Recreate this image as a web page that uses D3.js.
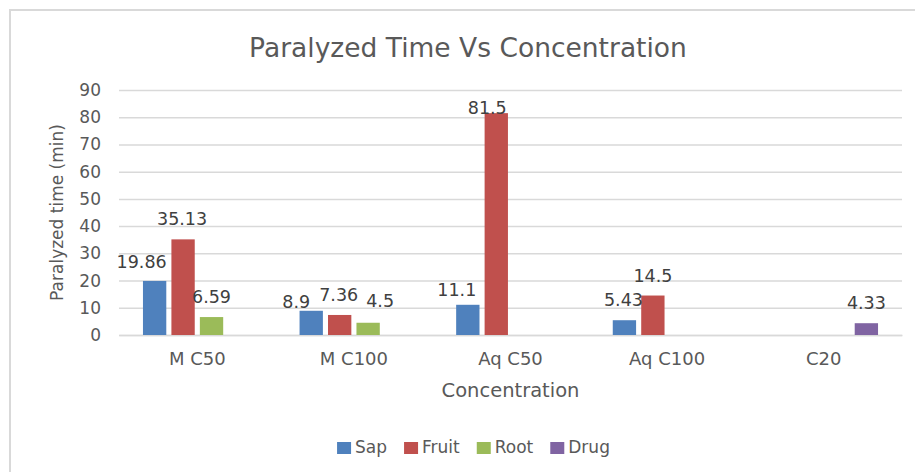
<!DOCTYPE html>
<html>
<head>
<meta charset="utf-8">
<script src="https://cdn.jsdelivr.net/npm/d3@7"></script>
<style>
  body { margin: 0; background: #fff; }
  text { font-family: "DejaVu Sans", sans-serif; }
</style>
</head>
<body>
<script>

// chart data
var categories = ["M C50", "M C100", "Aq C50", "Aq C100", "C20"];
var seriesNames = ["Sap", "Fruit", "Root", "Drug"];
var sap   = [19.86, 8.9, 11.1, 5.43, null];
var fruit = [35.13, 7.36, 81.5, 14.5, null];
var root  = [6.59, 4.5, null, null, null];
var drug  = [null, null, null, null, 4.33];
var yTicks = [0, 10, 20, 30, 40, 50, 60, 70, 80, 90];

var colors = { Sap: "#4f81bd", Fruit: "#c0504d", Root: "#9bbb59", Drug: "#8064a2" };

// label nudges (dx, dy) where Excel shifted them to avoid overlap
var labelNudge = {
    "M C50|Sap": [-13, 1],
    "M C50|Fruit": [-1, 0],
    "M C100|Sap": [-15, 11],
    "M C100|Fruit": [-1, 0],
    "M C100|Root": [12, -2],
    "Aq C50|Sap": [-11, 5],
    "Aq C50|Fruit": [-9, 15],
    "Aq C100|Sap": [-1, 0]
};

var W = 915, H = 472;
var margin = { left: 119, right: 13, top: 90, bottom: 137 };
var width = W - margin.left - margin.right,
    height = H - margin.top - margin.bottom;

var values = { Sap: sap, Fruit: fruit, Root: root, Drug: drug };
var rows = [];
categories.forEach(function (c, i) {
    seriesNames.forEach(function (s) {
        if (values[s][i] != null) rows.push({ cat: c, series: s, value: values[s][i] });
    });
});

var svg = d3.select("body").append("svg")
    .attr("width", W)
    .attr("height", H);

// chart border
svg.append("rect")
    .attr("x", 10).attr("y", 10)
    .attr("width", W).attr("height", H)
    .style("fill", "#fff")
    .style("stroke", "#d9d9d9")
    .style("stroke-width", 2);

var x0 = d3.scaleBand()
    .domain(categories)
    .range([0, width]);

var x1 = d3.scaleBand()
    .domain(seriesNames)
    .range([x0.bandwidth() * 0.153, x0.bandwidth() * 0.847])
    .paddingInner(0.18);

var y = d3.scaleLinear()
    .domain([0, 90])
    .range([height, 0]);

var g = svg.append("g")
    .attr("transform", "translate(" + margin.left + "," + margin.top + ")");

var yAxis = d3.axisLeft(y)
    .tickValues(yTicks)
    .tickSize(-width)
    .tickPadding(18);

g.append("g")
    .attr("class", "y axis")
    .call(yAxis)
    .call(function (s) {
        s.select(".domain").remove();
        s.selectAll("line").style("stroke", "#d9d9d9").style("stroke-width", 1.5);
        s.selectAll("text").style("fill", "#595959").style("font-size", "17px");
    });

var xAxis = d3.axisBottom(x0)
    .tickSize(0)
    .tickPadding(17);

g.append("g")
    .attr("class", "x axis")
    .attr("transform", "translate(0," + height + ")")
    .call(xAxis)
    .call(function (s) {
        s.select(".domain").style("stroke", "#d9d9d9").style("stroke-width", 1.5);
        s.selectAll("text").style("fill", "#595959").style("font-size", "18px");
    });

// bars
g.selectAll(".bar")
    .data(rows)
    .enter().append("rect")
    .attr("class", "bar")
    .attr("x", function (d) { return x0(d.cat) + x1(d.series); })
    .attr("y", function (d) { return y(d.value); })
    .attr("width", x1.bandwidth())
    .attr("height", function (d) { return height - y(d.value); })
    .style("fill", function (d) { return colors[d.series]; });

// data labels
g.selectAll(".lbl")
    .data(rows)
    .enter().append("text")
    .attr("class", "lbl")
    .attr("x", function (d) {
        var n = labelNudge[d.cat + "|" + d.series] || [0, 0];
        return x0(d.cat) + x1(d.series) + x1.bandwidth() / 2 + n[0];
    })
    .attr("y", function (d) {
        var n = labelNudge[d.cat + "|" + d.series] || [0, 0];
        return y(d.value) - 14 + n[1];
    })
    .attr("text-anchor", "middle")
    .style("font-size", "17.5px")
    .style("fill", "#404040")
    .text(function (d) { return d.value; });

// title
svg.append("text")
    .attr("x", 468)
    .attr("y", 57)
    .attr("text-anchor", "middle")
    .style("font-size", "26.5px")
    .style("fill", "#595959")
    .text("Paralyzed Time Vs Concentration");

// axis titles
svg.append("text")
    .attr("transform", "translate(63," + (margin.top + height / 2) + ") rotate(-90)")
    .attr("text-anchor", "middle")
    .style("font-size", "17px")
    .style("fill", "#595959")
    .text("Paralyzed time (min)");

svg.append("text")
    .attr("x", margin.left + width / 2)
    .attr("y", 397)
    .attr("text-anchor", "middle")
    .style("font-size", "19.5px")
    .style("fill", "#595959")
    .text("Concentration");

// legend
var legend = svg.append("g");
var lx = 0;
seriesNames.forEach(function (s) {
    var item = legend.append("g").attr("transform", "translate(" + lx + ",0)");
    item.append("rect")
        .attr("x", 0).attr("y", -11)
        .attr("width", 14).attr("height", 12)
        .style("fill", colors[s]);
    var t = item.append("text")
        .attr("x", 18).attr("y", 0)
        .style("font-size", "17px")
        .style("fill", "#595959")
        .text(s);
    lx += 18 + t.node().getComputedTextLength() + 17;
});
var legendW = lx - 17;
legend.attr("transform", "translate(" + (473.5 - legendW / 2) + ",453)");

</script>
</body>
</html>
